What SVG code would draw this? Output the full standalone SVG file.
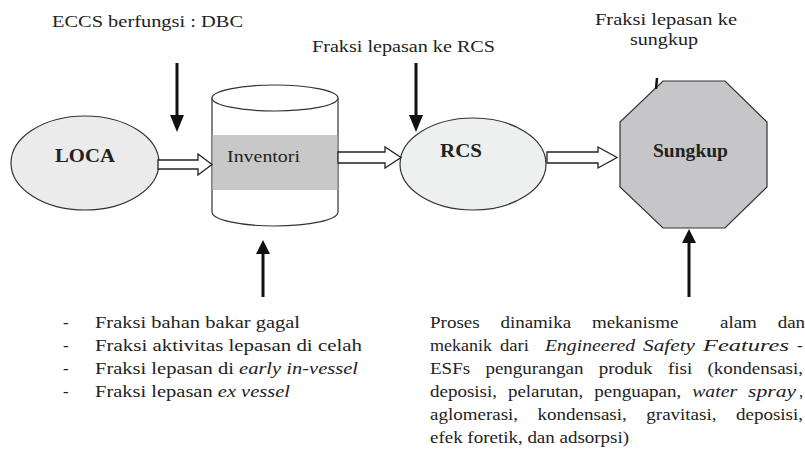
<svg xmlns="http://www.w3.org/2000/svg" width="805" height="453" viewBox="0 0 805 453">
<style>
text{font-family:"Liberation Serif","Times New Roman",serif;fill:#222;font-size:17px}
.b{font-size:19px;font-weight:bold}
.it{font-style:italic}
.shape{stroke:#333;stroke-width:1.2}
.hollow{fill:#fff;stroke:#222;stroke-width:1.3}
.thick{stroke:#111;stroke-width:3;fill:none}
.head{fill:#111}
</style>
<rect width="805" height="453" fill="#fff"/>
<g id="loca">
<ellipse cx="85" cy="163" rx="74" ry="47" fill="#ebebeb" class="shape"/>
<text class="b" x="55" y="162" textLength="60" lengthAdjust="spacingAndGlyphs">LOCA</text>
</g>
<g id="inventori">
<path d="M212,98 L212,212 A63,14 0 0 0 338,212 L338,98" fill="#fff" class="shape"/>
<rect x="212.6" y="135" width="124.8" height="55" fill="#c8c8c8"/>
<ellipse cx="275" cy="98" rx="63" ry="13" fill="#fff" class="shape"/>
<text x="227" y="162" textLength="73" lengthAdjust="spacingAndGlyphs">Inventori</text>
</g>
<g id="rcs">
<ellipse cx="473" cy="164" rx="73" ry="46" fill="#eef0ef" class="shape"/>
<text class="b" x="440" y="157" textLength="42" lengthAdjust="spacingAndGlyphs">RCS</text>
</g>
<g id="sungkup">
<polygon points="663,81 725,81 767,122 767,187 725,228 663,228 620,187 620,122" fill="#c6c6c8" class="shape"/>
<text class="b" x="653" y="157" textLength="75" lengthAdjust="spacingAndGlyphs">Sungkup</text>
<line x1="657" y1="78" x2="656" y2="89" stroke="#111" stroke-width="2.5"/>
</g>
<g id="connectors">
<polygon class="hollow" points="158,160 198,160 198,154 212,164.5 198,175 198,169 158,169"/>
<polygon class="hollow" points="338,152 385,152 385,147 401,157.5 385,168 385,163 338,163"/>
<polygon class="hollow" points="547,152 598,152 598,147 617,157.5 598,168 598,163 547,163"/>
<line class="thick" x1="177" y1="63" x2="177" y2="118"/>
<polygon class="head" points="170,115 184,115 177,132"/>
<line class="thick" x1="416" y1="63" x2="416" y2="118"/>
<polygon class="head" points="409,115 423,115 416,132"/>
<line class="thick" x1="263" y1="297" x2="263" y2="250"/>
<polygon class="head" points="256,254 270,254 263,240"/>
<line class="thick" x1="689" y1="297" x2="689" y2="238"/>
<polygon class="head" points="682,243 696,243 689,229"/>
</g>
<g id="labels">
<text x="52" y="27" textLength="191" lengthAdjust="spacingAndGlyphs">ECCS berfungsi : DBC</text>
<text x="312" y="52" textLength="183" lengthAdjust="spacingAndGlyphs">Fraksi lepasan ke RCS</text>
<text x="595" y="25" textLength="142" lengthAdjust="spacingAndGlyphs">Fraksi lepasan ke</text>
<text x="630" y="45" textLength="68" lengthAdjust="spacingAndGlyphs">sungkup</text>
</g>
<g id="list-left">
<text x="63" y="328">-</text><text x="95" y="328" textLength="205" lengthAdjust="spacingAndGlyphs">Fraksi bahan bakar gagal</text>
<text x="63" y="351">-</text><text x="95" y="351" textLength="267" lengthAdjust="spacingAndGlyphs">Fraksi aktivitas lepasan  di celah</text>
<text x="63" y="374">-</text><text x="95" y="374" textLength="263" lengthAdjust="spacingAndGlyphs">Fraksi lepasan di <tspan class="it">early in-vessel</tspan></text>
<text x="63" y="397">-</text><text x="95" y="397" textLength="195" lengthAdjust="spacingAndGlyphs">Fraksi lepasan <tspan class="it">ex vessel</tspan></text>
</g>
<g id="para-right">
<g id="line1">
<text x="430" y="328" textLength="49.6" lengthAdjust="spacingAndGlyphs">Proses</text>
<text x="500.4" y="328" textLength="70.7" lengthAdjust="spacingAndGlyphs">dinamika</text>
<text x="591.9" y="328" textLength="86.5" lengthAdjust="spacingAndGlyphs">mekanisme</text>
<text x="720" y="328" textLength="36.9" lengthAdjust="spacingAndGlyphs">alam</text>
<text x="777.7" y="328" textLength="27.4" lengthAdjust="spacingAndGlyphs">dan</text>
</g>
<g id="line2">
<text x="430" y="351" textLength="62" lengthAdjust="spacingAndGlyphs">mekanik</text>
<text x="500" y="351" textLength="29" lengthAdjust="spacingAndGlyphs">dari</text>
<text class="it" x="545" y="351" textLength="90" lengthAdjust="spacingAndGlyphs">Engineered</text>
<text class="it" x="643" y="351" textLength="52" lengthAdjust="spacingAndGlyphs">Safety</text>
<text class="it" x="703" y="351" textLength="86" lengthAdjust="spacingAndGlyphs">Features</text>
<text x="797" y="351">-</text>
</g>
<g id="line3">
<text x="430" y="374" textLength="40.1" lengthAdjust="spacingAndGlyphs">ESFs</text>
<text x="485.4" y="374" textLength="98.1" lengthAdjust="spacingAndGlyphs">pengurangan</text>
<text x="598.8" y="374" textLength="53.8" lengthAdjust="spacingAndGlyphs">produk</text>
<text x="667.9" y="374" textLength="24.3" lengthAdjust="spacingAndGlyphs">fisi</text>
<text x="707.5" y="374" textLength="95.5" lengthAdjust="spacingAndGlyphs">(kondensasi,</text>
</g>
<g id="line4">
<text x="430" y="397" textLength="67" lengthAdjust="spacingAndGlyphs">deposisi,</text>
<text x="507.9" y="397" textLength="75.4" lengthAdjust="spacingAndGlyphs">pelarutan,</text>
<text x="594.2" y="397" textLength="87.1" lengthAdjust="spacingAndGlyphs">penguapan,</text>
<text class="it" x="692.2" y="397" textLength="45" lengthAdjust="spacingAndGlyphs">water</text>
<text class="it" x="748.1" y="397" textLength="48" lengthAdjust="spacingAndGlyphs">spray</text>
<text x="799" y="397">,</text>
</g>
<g id="line5">
<text x="430" y="420" textLength="88.1" lengthAdjust="spacingAndGlyphs">aglomerasi,</text>
<text x="537.6" y="420" textLength="89.2" lengthAdjust="spacingAndGlyphs">kondensasi,</text>
<text x="646.3" y="420" textLength="70.2" lengthAdjust="spacingAndGlyphs">gravitasi,</text>
<text x="736" y="420" textLength="67" lengthAdjust="spacingAndGlyphs">deposisi,</text>
</g>
<g id="line6">
<text x="430" y="443" textLength="199" lengthAdjust="spacingAndGlyphs">efek foretik, dan adsorpsi)</text>
</g>
</g>
</svg>
